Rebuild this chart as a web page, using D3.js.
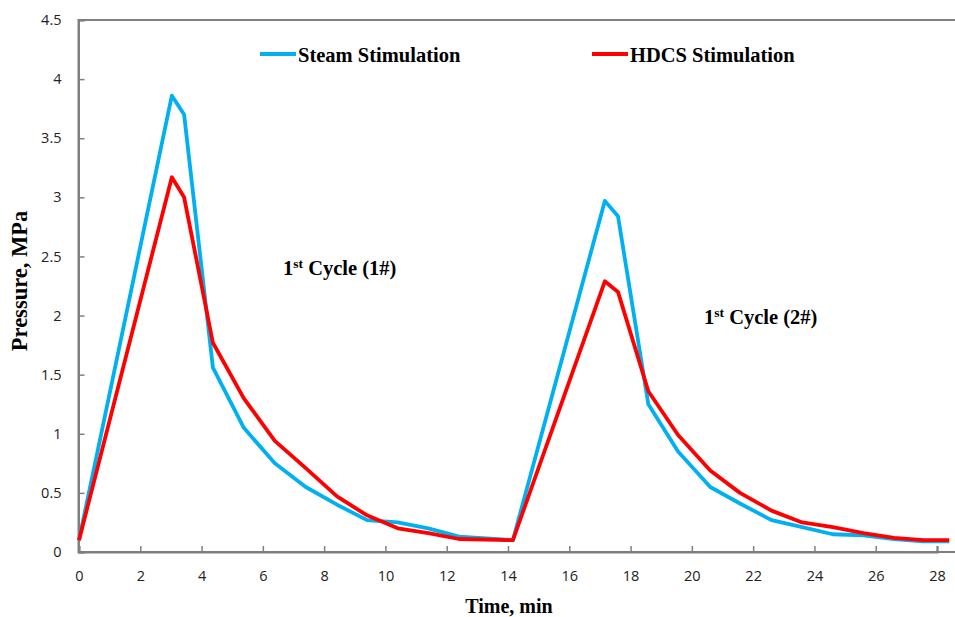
<!DOCTYPE html>
<html>
<head>
<meta charset="utf-8">
<script src="https://cdn.jsdelivr.net/npm/d3@7"></script>
<style>
  body { margin: 0; background: #fff; }
  svg { display: block; }
  .tick text { font-family: "Open Sans", sans-serif; font-size: 14.5px; fill: #222; }
  .lbl { font-family: "Liberation Serif", "Times New Roman", serif; font-weight: bold; fill: #000; }
</style>
</head>
<body>
<svg id="chart"></svg>
<script>
// time points (min) and pressures (MPa)
var steamTime = [0, 3.03, 3.43, 4.37, 5.38, 6.39, 7.4, 8.42, 9.4, 10.4, 11.4, 12.4, 14.16,
  17.16, 17.59, 18.58, 19.55, 20.6, 21.57, 22.6, 23.6, 24.6, 25.6, 26.6, 27.55, 28.4];
var steamPressure = [0.1, 3.86, 3.70, 1.56, 1.05, 0.75, 0.55, 0.40, 0.27, 0.25, 0.20, 0.13, 0.10,
  2.97, 2.84, 1.25, 0.85, 0.55, 0.41, 0.27, 0.21, 0.15, 0.14, 0.11, 0.09, 0.09];

var hdcsTime = [0, 3.03, 3.43, 4.37, 5.38, 6.39, 7.4, 8.42, 9.4, 10.4, 11.4, 12.4, 14.16,
  17.16, 17.59, 18.58, 19.55, 20.6, 21.57, 22.6, 23.6, 24.6, 25.6, 26.6, 27.55, 28.4];
var hdcsPressure = [0.1, 3.17, 3.0, 1.77, 1.30, 0.94, 0.71, 0.47, 0.31, 0.20, 0.16, 0.11, 0.10,
  2.29, 2.20, 1.36, 0.99, 0.69, 0.50, 0.35, 0.25, 0.21, 0.16, 0.12, 0.10, 0.10];

var xTicks = d3.range(0, 29, 2);
var yTicks = [0, 0.5, 1, 1.5, 2, 2.5, 3, 3.5, 4, 4.5];

var width = 955, height = 617;
var svg = d3.select("#chart").attr("width", width).attr("height", height);

var x = d3.scaleLinear().domain([0, 28]).range([79, 937]);
var y = d3.scaleLinear().domain([0, 4.5]).range([552, 20]);

// plot frame (right edge runs off the picture)
svg.append("rect")
  .attr("x", 78.5).attr("y", 20)
  .attr("width", 900).attr("height", 532)
  .attr("fill", "none").attr("stroke", "#7f7f7f").attr("stroke-width", 2);

// axes, ticks pointing into the plot
var xAxis = svg.append("g")
  .attr("transform", "translate(0,552)")
  .call(d3.axisBottom(x).tickValues(xTicks).tickSize(-6).tickPadding(19).tickFormat(d3.format("d")));
var yAxis = svg.append("g")
  .attr("transform", "translate(78.5,0)")
  .call(d3.axisLeft(y).tickValues(yTicks).tickSize(-6).tickPadding(17).tickFormat(function (d) { return d; }));

[xAxis, yAxis].forEach(function (g) {
  g.select(".domain").attr("stroke", "#7f7f7f").attr("stroke-width", 2);
  g.selectAll(".tick line").attr("stroke", "#7f7f7f").attr("stroke-width", 1.5);
});

// the two series
var line = d3.line().x(function (d) { return x(d[0]); }).y(function (d) { return y(d[1]); });

svg.append("path")
  .datum(d3.zip(steamTime, steamPressure))
  .attr("d", line)
  .attr("fill", "none").attr("stroke", "#00b0f0").attr("stroke-width", 3.8).attr("stroke-linejoin", "round");

svg.append("path")
  .datum(d3.zip(hdcsTime, hdcsPressure))
  .attr("d", line)
  .attr("fill", "none").attr("stroke", "#ff0000").attr("stroke-width", 3.8).attr("stroke-linejoin", "round");

// legend
var legend = [
  {name: "Steam Stimulation", color: "#00b0f0", x0: 260},
  {name: "HDCS Stimulation", color: "#ff0000", x0: 592}
];
legend.forEach(function (d) {
  svg.append("line")
    .attr("x1", d.x0).attr("x2", d.x0 + 36).attr("y1", 54).attr("y2", 54)
    .attr("stroke", d.color).attr("stroke-width", 3.8);
  svg.append("text").attr("class", "lbl")
    .attr("x", d.x0 + 38).attr("y", 61.5)
    .style("font-size", "20.5px")
    .text(d.name);
});

// cycle notes
function note(tx, ty, num) {
  var t = svg.append("text").attr("class", "lbl").attr("x", tx).attr("y", ty).style("font-size", "20.5px");
  t.append("tspan").text("1");
  t.append("tspan").attr("dy", -7).style("font-size", "13.5px").text("st");
  t.append("tspan").attr("dy", 7).text(" Cycle (" + num + "#)");
}
note(283, 275, 1);
note(704, 324, 2);

// axis titles
svg.append("text").attr("class", "lbl")
  .attr("x", 509).attr("y", 613)
  .attr("text-anchor", "middle")
  .style("font-size", "20px")
  .text("Time, min");

svg.append("text").attr("class", "lbl")
  .attr("transform", "translate(27,281) rotate(-90)")
  .attr("text-anchor", "middle")
  .style("font-size", "22.5px")
  .text("Pressure, MPa");
</script>
</body>
</html>
